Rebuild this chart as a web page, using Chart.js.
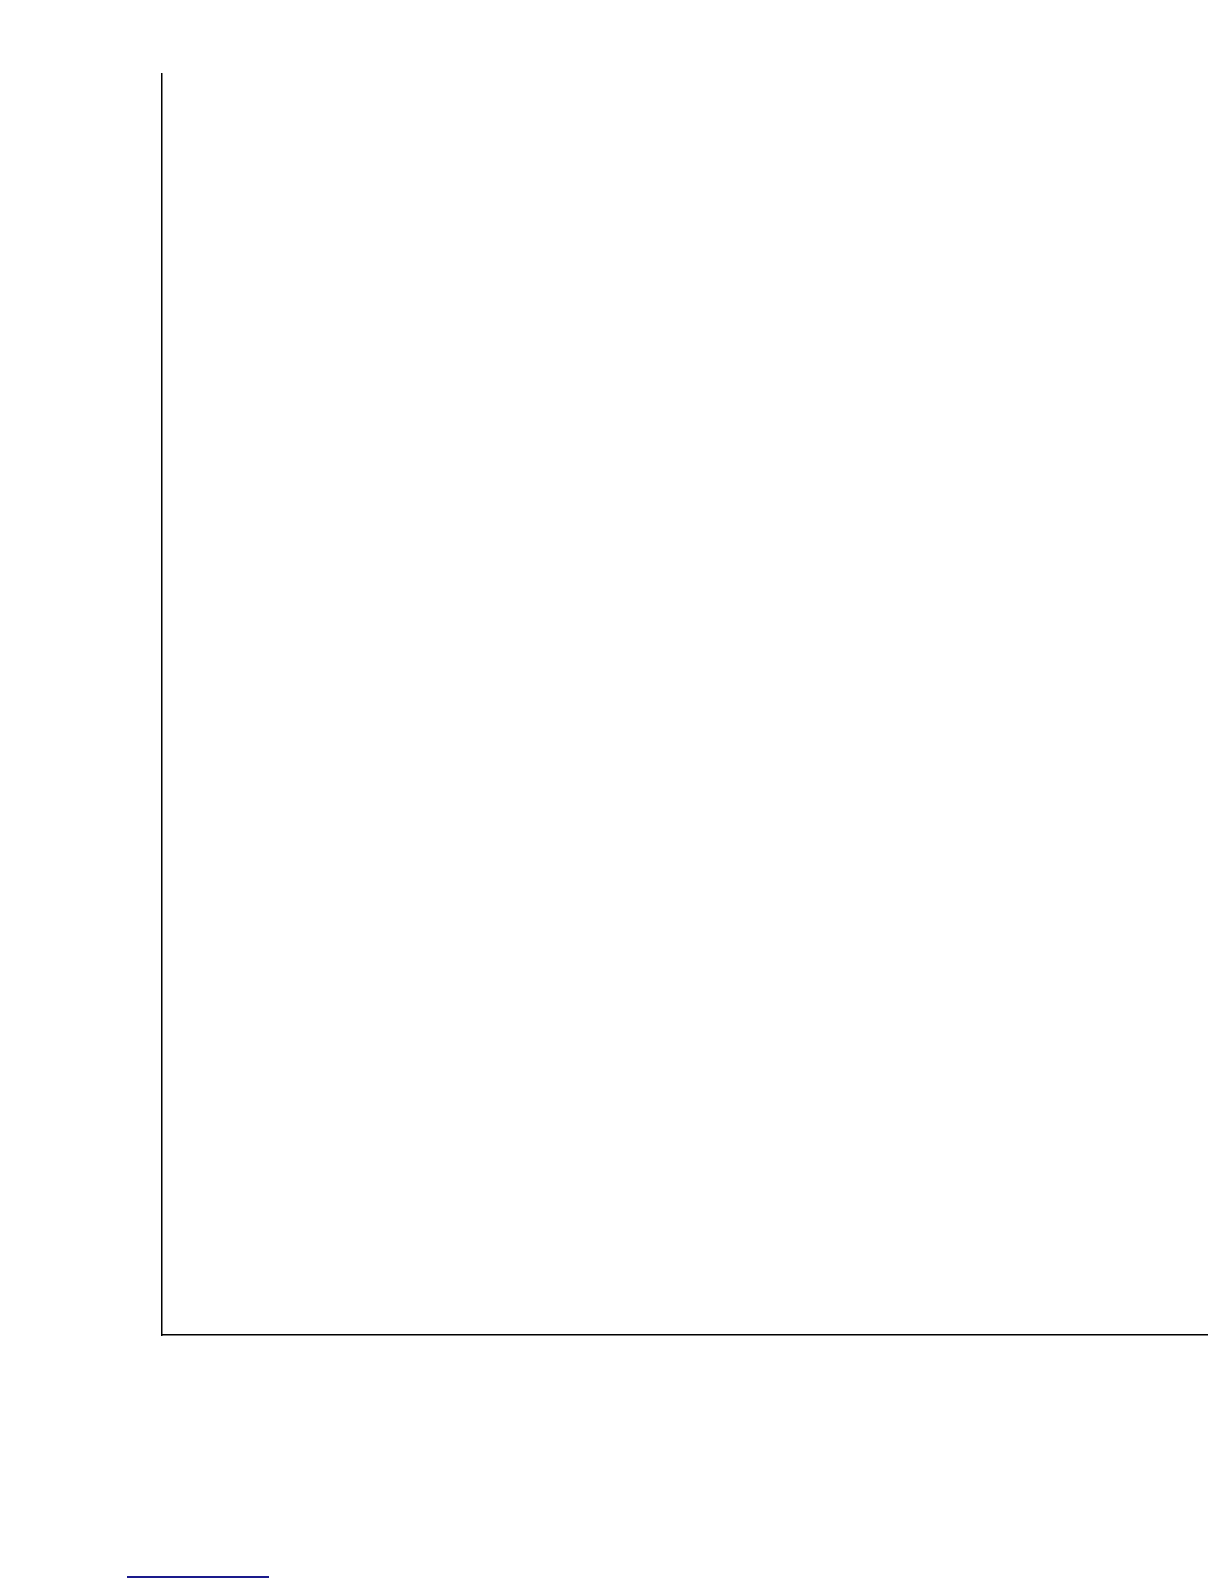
<!DOCTYPE html>
<html>
<head>
<meta charset="utf-8">
<script src="https://cdn.jsdelivr.net/npm/chart.js@4.4.1/dist/chart.umd.min.js"></script>
<style>
  html, body { margin: 0; padding: 0; background: #fff; }
  #wrap { position: relative; width: 1224px; height: 1584px; }
  #link { position: absolute; left: 127px; top: 1576px; width: 142px; height: 0; border-top: 2px solid #1a1a8c; }
</style>
</head>
<body>
<div id="wrap">
  <canvas id="myChart" width="1224" height="1584"></canvas>
  <div id="link"></div>
</div>
<script>
// the reference chart has no visible marks, only the two axis lines
const xLabels = [];
const yValues = [];

function generateChart() {
    new Chart("myChart", {
        type: 'line',
        data: {
            labels: xLabels,
            datasets: [{
                data: yValues,
                borderColor: "black",
                pointRadius: 0
            }]
        },
        options: {
            responsive: false,
            animation: false,
            layout: {
                padding: { left: 162, top: 74, right: 17, bottom: 249 }
            },
            plugins: {
                legend: { display: false },
                tooltip: { enabled: false }
            },
            scales: {
                x: {
                    border: { display: true, color: "black", width: 1.5 },
                    grid: { display: false, drawTicks: false },
                    ticks: { display: false }
                },
                y: {
                    border: { display: true, color: "black", width: 1.5 },
                    grid: { display: false, drawTicks: false },
                    ticks: { display: false }
                }
            }
        }
    });
}
generateChart();
</script>
</body>
</html>
